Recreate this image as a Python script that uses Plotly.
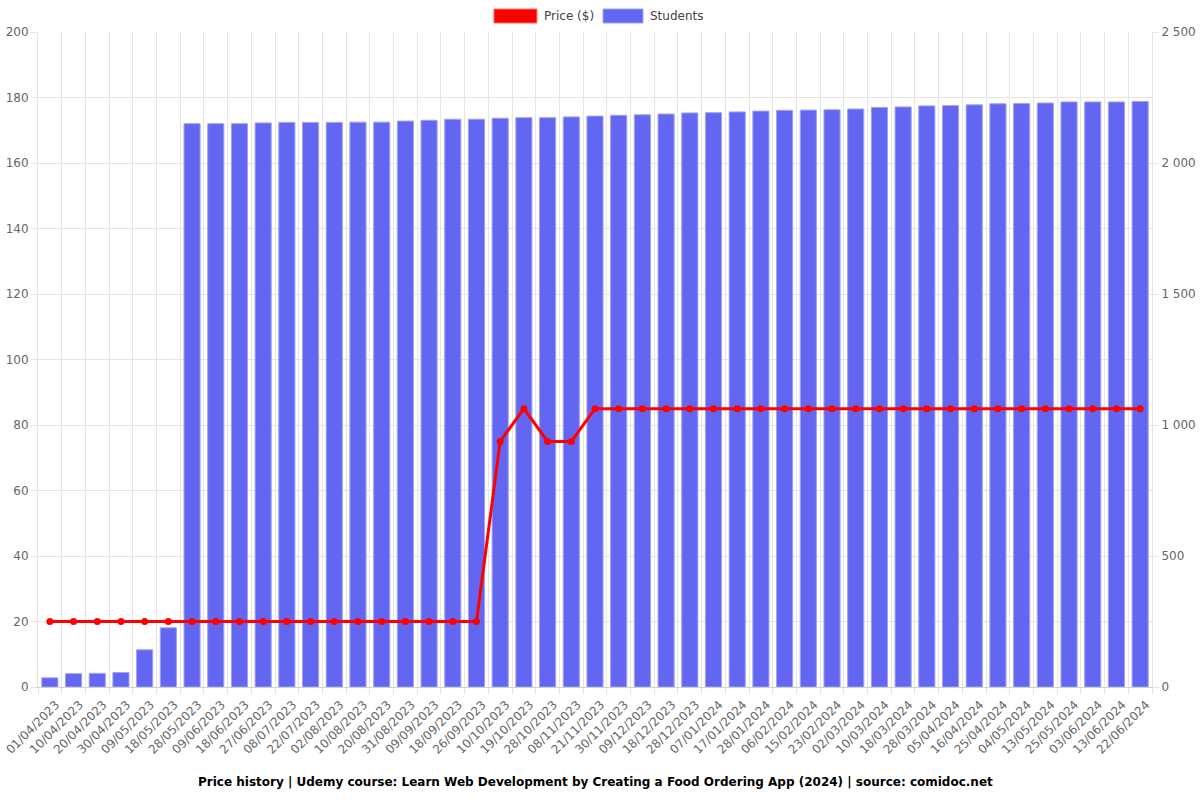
"""
Price history chart: Udemy course price vs enrolled students.
"""

import plotly.graph_objects as go

DATES = [
    "01/04/2023", "10/04/2023", "20/04/2023", "30/04/2023", "09/05/2023",
    "18/05/2023", "28/05/2023", "09/06/2023", "18/06/2023", "27/06/2023",
    "08/07/2023", "22/07/2023", "02/08/2023", "10/08/2023", "20/08/2023",
    "31/08/2023", "09/09/2023", "18/09/2023", "26/09/2023", "10/10/2023",
    "19/10/2023", "28/10/2023", "08/11/2023", "21/11/2023", "30/11/2023",
    "09/12/2023", "18/12/2023", "28/12/2023", "07/01/2024", "17/01/2024",
    "28/01/2024", "06/02/2024", "15/02/2024", "23/02/2024", "02/03/2024",
    "10/03/2024", "18/03/2024", "28/03/2024", "05/04/2024", "16/04/2024",
    "25/04/2024", "04/05/2024", "13/05/2024", "25/05/2024", "03/06/2024",
    "13/06/2024", "22/06/2024",
]

PRICE = [
    20, 20, 20, 20, 20, 20, 20, 20, 20, 20,
    20, 20, 20, 20, 20, 20, 20, 20, 20, 75,
    85, 75, 75, 85, 85, 85, 85, 85, 85, 85,
    85, 85, 85, 85, 85, 85, 85, 85, 85, 85,
    85, 85, 85, 85, 85, 85, 85,
]

STUDENTS = [
    35, 51, 52, 55, 142, 226, 2150, 2150, 2150, 2153,
    2155, 2155, 2155, 2156, 2156, 2160, 2163, 2167, 2167, 2171,
    2173, 2173, 2176, 2179, 2182, 2184, 2187, 2191, 2192, 2195,
    2198, 2201, 2202, 2203, 2206, 2212, 2214, 2218, 2219, 2222,
    2226, 2227, 2229, 2233, 2233, 2233, 2235,
]

TITLE = ("Price history | Udemy course: Learn Web Development by Creating a "
         "Food Ordering App (2024) | source: comidoc.net")

BAR_COLOR = "rgb(99,102,241)"
BAR_EDGE = "#9fa1f7"
LINE_COLOR = "#ff0000"
LINE_EDGE = "#ff7070"
GRID = "#e5e5e5"
TICK_FONT = dict(family="DejaVu Sans", size=12, color="#666")

fig = go.Figure()

fig.add_trace(go.Bar(
    x=DATES, y=STUDENTS, name="Students", yaxis="y",
    marker=dict(color=BAR_COLOR, line=dict(color=BAR_EDGE, width=1)),
    hovertemplate="%{x}<br>Students: %{y}<extra></extra>",
))
fig.add_trace(go.Scatter(
    x=DATES, y=PRICE, name="Price ($)", yaxis="y2",
    mode="lines+markers",
    line=dict(color=LINE_COLOR, width=3),
    marker=dict(color=LINE_COLOR, size=7),
))

# chart.js-style legend: wide filled swatches above the plot (paper coords)
legend_items = [
    ("Price ($)", LINE_COLOR, LINE_EDGE, 0.4093, 0.4479),
    ("Students", BAR_COLOR, BAR_EDGE, 0.5072, 0.5431),
]
shapes, notes = [], []
for label, fill, edge, x0, x1 in legend_items:
    shapes.append(dict(
        type="rect", xref="paper", yref="paper", x0=x0, x1=x1,
        y0=1.0137, y1=1.0351, fillcolor=fill, line=dict(color=edge, width=1),
    ))
    notes.append(dict(
        text=label, xref="paper", yref="paper", x=x1 + 0.0045, y=1.0244,
        xanchor="left", yanchor="middle", showarrow=False,
        font=dict(family="DejaVu Sans", size=12, color="#444"),
    ))

notes.append(dict(
    text=f"<b>{TITLE}</b>", xref="paper", yref="paper",
    x=0.5, y=-0.145, yanchor="middle", showarrow=False,
    font=dict(family="DejaVu Sans", size=12, color="#000"),
))

fig.update_layout(
    width=1200, height=800,
    margin=dict(l=38, r=48, t=32, b=113),
    plot_bgcolor="white", paper_bgcolor="white",
    font=dict(family="DejaVu Sans", size=12, color="#666"),
    separators=". ",
    bargap=0.32,
    showlegend=False,
    xaxis=dict(
        type="category", tickson="boundaries", tickangle=-45,
        range=[-0.5, len(DATES) - 0.5], automargin=False,
        showgrid=True, gridcolor=GRID, ticks="outside", ticklen=6,
        tickcolor=GRID, showline=True, linecolor="#d0d0d0",
        tickfont=TICK_FONT, ticklabelshift=6, ticklabelstandoff=5,
    ),
    yaxis=dict(
        side="right", range=[0, 2500], dtick=500, separatethousands=True,
        showgrid=False, ticks="outside", ticklen=6, tickcolor=GRID,
        showline=True, linecolor=GRID, tickfont=TICK_FONT, zeroline=False,
        automargin=False,
    ),
    yaxis2=dict(
        side="left", overlaying="y", range=[0, 200], dtick=20,
        showgrid=True, gridcolor=GRID, ticks="outside", ticklen=6,
        tickcolor=GRID, showline=True, linecolor=GRID, tickfont=TICK_FONT,
        zeroline=False, automargin=False,
    ),
    shapes=shapes,
    annotations=notes,
)

# drop the default 8px body margin so the figure sits at the page corner
fig.write_html(
    "out.html",
    config={"displayModeBar": False},
    post_script="document.body.style.margin='0';",
)
